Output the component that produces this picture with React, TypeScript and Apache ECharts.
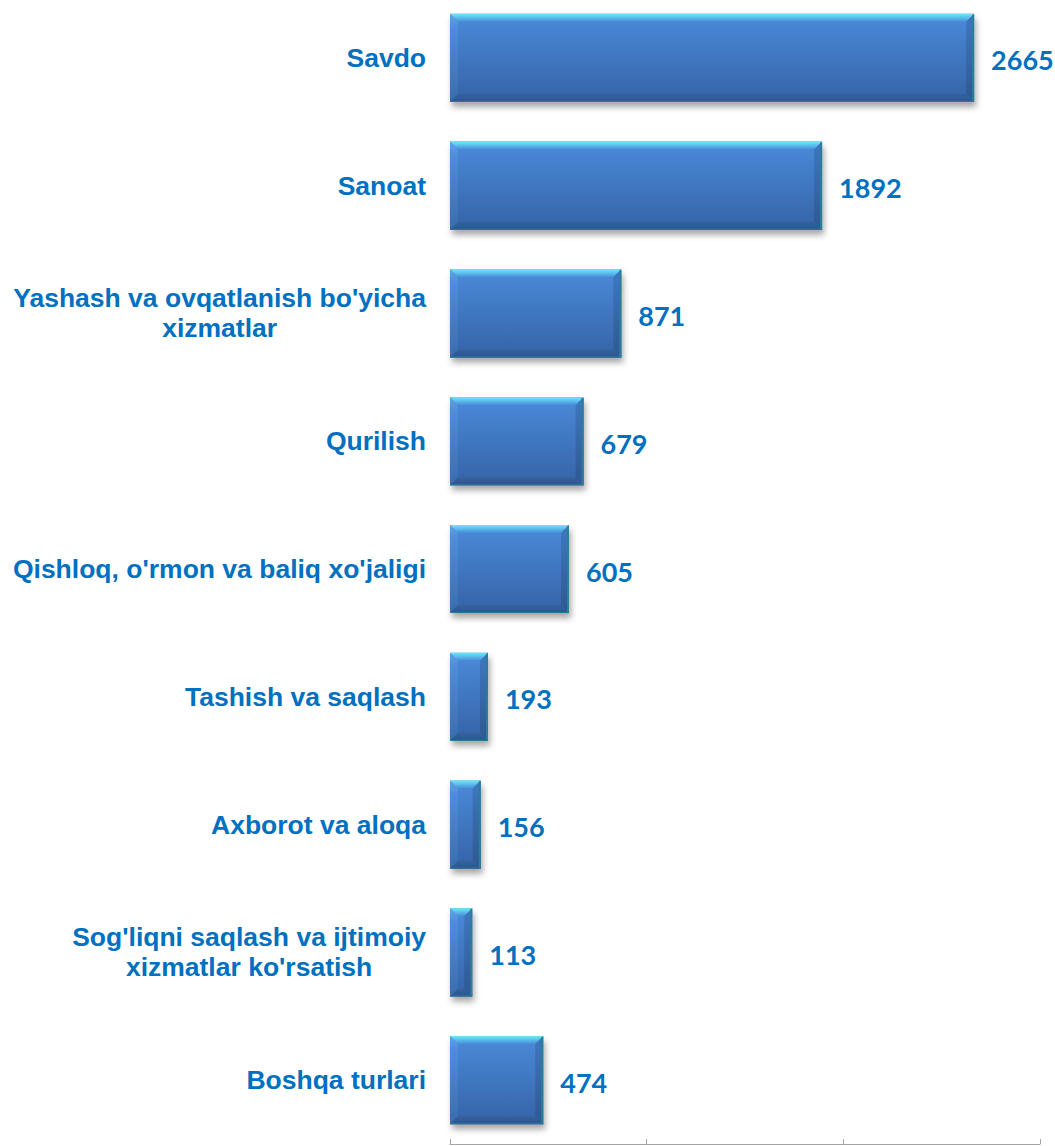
import React, { useEffect, useRef } from "react";
import * as echarts from "echarts";

const categories = [
  "Savdo",
  "Sanoat",
  "Yashash va ovqatlanish bo'yicha\nxizmatlar",
  "Qurilish",
  "Qishloq, o'rmon va baliq xo'jaligi",
  "Tashish va saqlash",
  "Axborot va aloqa",
  "Sog'liqni saqlash va ijtimoiy\nxizmatlar ko'rsatish",
  "Boshqa turlari",
];
const values = [2665, 1892, 871, 679, 605, 193, 156, 113, 474];
const axisMin = 0;
const axisMax = 3000;
const axisStep = 1000;

const LABEL_COLOR = "#0070C0";

function renderBar(params: any, api: any) {
  const v = api.value(0);
  const idx = api.value(1);
  const start = api.coord([0, idx]);
  const end = api.coord([v, idx]);
  const band = api.size([0, 1])[1];
  const h = band * 0.69;
  const x0 = start[0];
  const x1 = end[0];
  const y0 = start[1] - h / 2;
  const y1 = start[1] + h / 2;
  const w = x1 - x0;
  const b = Math.min(8, w / 2 - 1);
  const grad = (stops: [number, string][]) =>
    new echarts.graphic.LinearGradient(0, 0, 0, 1, stops.map(([o, c]) => ({ offset: o, color: c })));
  return {
    type: "group",
    children: [
      {
        type: "rect",
        shape: { x: x0, y: y0, width: w, height: h },
        style: {
          fill: grad([
            [0, "#4a8ada"],
            [1, "#3563a6"],
          ]),
          shadowBlur: 6,
          shadowOffsetX: 2,
          shadowOffsetY: 5,
          shadowColor: "rgba(0,0,0,0.35)",
        },
      },
      {
        type: "polygon",
        shape: { points: [[x0, y0], [x1, y0], [x1 - b, y0 + b], [x0 + b, y0 + b]] },
        style: {
          fill: grad([
            [0, "#6ee9f8"],
            [0.4, "#5cc6ee"],
            [1, "#4a8ad8"],
          ]),
        },
      },
      {
        type: "polygon",
        shape: { points: [[x0, y0], [x0 + b, y0 + b], [x0 + b, y1 - b], [x0, y1]] },
        style: {
          fill: grad([
            [0, "#5aa8e8"],
            [0.15, "#4c8edc"],
            [1, "#3a6cb0"],
          ]),
        },
      },
      {
        type: "polygon",
        shape: { points: [[x1, y0], [x1, y1], [x1 - b, y1 - b], [x1 - b, y0 + b]] },
        style: {
          fill: grad([
            [0, "#3f78c0"],
            [1, "#2e5892"],
          ]),
        },
      },
      {
        type: "polygon",
        shape: { points: [[x0, y1], [x1, y1], [x1 - b, y1 - b], [x0 + b, y1 - b]] },
        style: {
          fill: grad([
            [0, "#36619f"],
            [1, "#2c5690"],
          ]),
        },
      },
      {
        type: "line",
        shape: { x1: x1 - 1, y1: y0 + 1, x2: x1 - 1, y2: y1 },
        style: { stroke: "#2a7f95", lineWidth: 2 },
      },
      {
        type: "line",
        shape: { x1: x0, y1: y1 - 0.5, x2: x1, y2: y1 - 0.5 },
        style: { stroke: "#2d7c96", lineWidth: 1 },
      },
      {
        type: "text",
        x: x1 + 17,
        y: start[1] + 2,
        style: {
          text: String(v),
          fill: LABEL_COLOR,
          font: "bold 27px Lato",
          textAlign: "left",
          textVerticalAlign: "middle",
        },
      },
    ],
  };
}

export default function App() {
  const ref = useRef<HTMLDivElement>(null);
  useEffect(() => {
    if (!ref.current) return;
    const chart = echarts.init(ref.current, undefined, { renderer: "svg" });
    chart.setOption({
      animation: false,
      backgroundColor: "#ffffff",
      grid: { left: 450, right: 15, top: 0, bottom: 2, containLabel: false },
      xAxis: {
        type: "value",
        min: axisMin,
        max: axisMax,
        interval: axisStep,
        axisLine: { show: true, lineStyle: { color: "#a6a6a6", width: 1 } },
        axisTick: { show: true, inside: true, length: 5, lineStyle: { color: "#a6a6a6" } },
        axisLabel: { show: false },
        splitLine: { show: false },
      },
      yAxis: {
        type: "category",
        data: categories,
        inverse: true,
        axisLine: { show: false },
        axisTick: { show: false },
        axisLabel: {
          margin: 24,
          color: LABEL_COLOR,
          fontFamily: "Liberation Sans",
          fontWeight: "bold",
          fontSize: 26.5,
          lineHeight: 30,
          align: "right",
          formatter: (val: string) =>
            val
              .split("\n")
              .map((l) => `{c|${l}}`)
              .join("\n"),
          rich: {
            c: {
              align: "center",
              color: LABEL_COLOR,
              fontFamily: "Liberation Sans",
              fontWeight: "bold",
              fontSize: 26.5,
              lineHeight: 30,
            },
          },
        },
      },
      series: [
        {
          type: "custom",
          renderItem: renderBar,
          encode: { x: 0, y: 1 },
          data: values.map((v, i) => [v, i]),
          clip: false,
        },
      ],
    });
    return () => chart.dispose();
  }, []);
  return (
    <div
      ref={ref}
      style={{ position: "absolute", left: 0, top: -6, width: 1055, height: 1152 }}
    />
  );
}
